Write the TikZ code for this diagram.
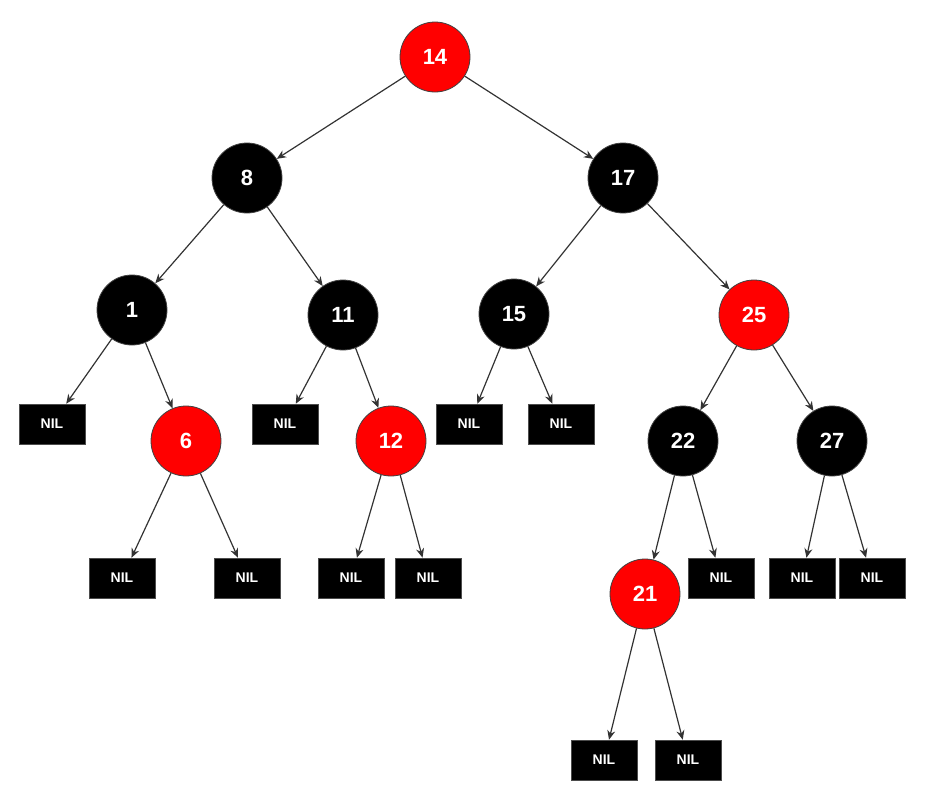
\documentclass[tikz,border=0pt]{standalone}
\usepackage{fontspec}
\setmainfont{Liberation Sans}
\usetikzlibrary{arrows.meta}
\begin{document}
\begin{tikzpicture}[x=0.75pt,y=-0.75pt,
  rb/.style={circle,draw=black!75,line width=0.6pt,minimum size=52.5pt,inner sep=0pt,text=white,font=\bfseries\fontsize{16.5}{18}\selectfont},
  red/.style={rb,fill=red},
  blk/.style={rb,fill=black},
  nil/.style={rectangle,fill=black,draw=black!70,minimum width=49.5pt,minimum height=30pt,inner sep=0pt,text=white,font=\bfseries\fontsize{10.5}{12}\selectfont},
  e/.style={draw=black!80,line width=0.9pt,-{Stealth[length=7pt,width=6pt]}}]
\useasboundingbox (0,0) rectangle (926,801);
\node[red] (n14) at (435,57) {14};
\node[blk] (n8) at (247,178) {8};
\node[blk] (n17) at (623,178) {17};
\node[blk] (n1) at (132,310) {1};
\node[blk] (n11) at (343,315) {11};
\node[blk] (n15) at (514,314) {15};
\node[red] (n25) at (754,315) {25};
\node[nil] (na) at (52,424) {NIL};
\node[red] (n6) at (186,441) {6};
\node[nil] (nb) at (285,424) {NIL};
\node[red] (n12) at (391,441) {12};
\node[nil] (nc) at (469,424) {NIL};
\node[nil] (nd) at (561,424) {NIL};
\node[blk] (n22) at (683,441) {22};
\node[blk] (n27) at (832,441) {27};
\node[nil] (ne) at (122,578) {NIL};
\node[nil] (nf) at (247,578) {NIL};
\node[nil] (ng) at (351,578) {NIL};
\node[nil] (nh) at (428,578) {NIL};
\node[red] (n21) at (645,594) {21};
\node[nil] (ni) at (721,578) {NIL};
\node[nil] (nj) at (802,578) {NIL};
\node[nil] (nk) at (872,578) {NIL};
\node[nil] (nl) at (604,760) {NIL};
\node[nil] (nm) at (688,760) {NIL};
\foreach \a/\b in {n14/n8,n14/n17,n8/n1,n8/n11,n17/n15,n17/n25,n1/na,n1/n6,n11/nb,n11/n12,n15/nc,n15/nd,n25/n22,n25/n27,n6/ne,n6/nf,n12/ng,n12/nh,n22/n21,n22/ni,n27/nj,n27/nk,n21/nl,n21/nm}
  \draw[e] (\a) -- (\b);
\end{tikzpicture}
\end{document}
